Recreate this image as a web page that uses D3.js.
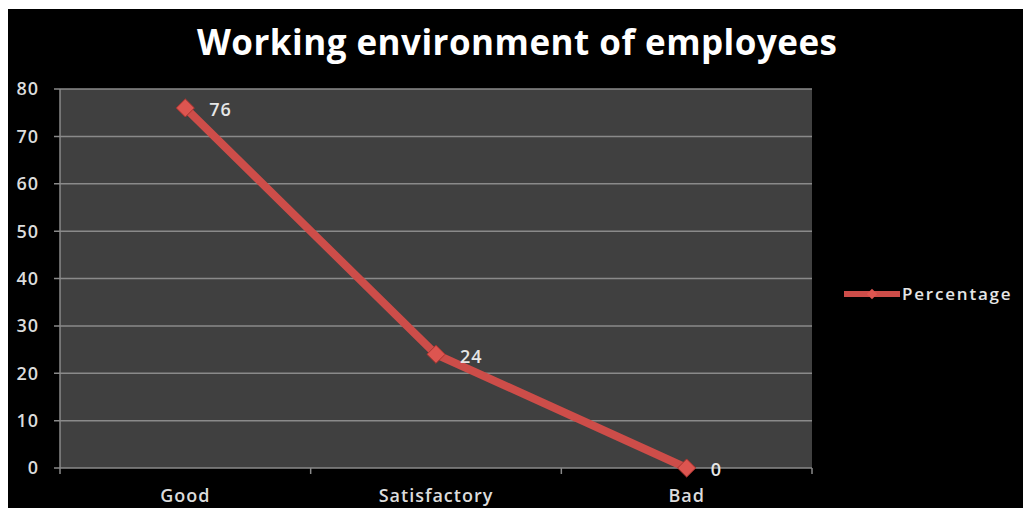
<!DOCTYPE html>
<html>
<head>
<meta charset="utf-8">
<script src="https://cdn.jsdelivr.net/npm/d3@7"></script>
<style>
  body { margin: 0; background: #fff; }
  svg text { font-family: "Open Sans", "DejaVu Sans", sans-serif; }
</style>
</head>
<body>
<svg id="chart" width="1023" height="508"></svg>
<script>
// chart data
var categories = ["Good", "Satisfactory", "Bad"];
var percentage = [76, 24, 0];
var yTicks = [0, 10, 20, 30, 40, 50, 60, 70, 80];
var seriesName = "Percentage";
var title = "Working environment of employees";

var svg = d3.select("svg"),
    width = +svg.attr("width"),
    height = +svg.attr("height");

// black slide background, white strip at top/left
svg.append("rect")
    .attr("x", 8).attr("y", 9)
    .attr("width", width - 8).attr("height", height - 9)
    .attr("fill", "#000");

var plot = { left: 60, right: 812, top: 89, bottom: 468 };

var x = d3.scaleBand()
    .domain(categories)
    .range([plot.left, plot.right]);

var y = d3.scaleLinear()
    .domain([0, 80])
    .range([plot.bottom, plot.top]);

// plot area
svg.append("rect")
    .attr("x", plot.left).attr("y", plot.top)
    .attr("width", plot.right - plot.left)
    .attr("height", plot.bottom - plot.top)
    .attr("fill", "#404040");

// gridlines
svg.append("g")
    .selectAll("line")
    .data(yTicks)
    .enter().append("line")
    .attr("x1", plot.left - 6)
    .attr("x2", plot.right)
    .attr("y1", function(d) { return y(d); })
    .attr("y2", function(d) { return y(d); })
    .attr("stroke", "#8a8a8a")
    .attr("stroke-width", 1.5);

// y axis line
svg.append("line")
    .attr("x1", plot.left).attr("x2", plot.left)
    .attr("y1", plot.top).attr("y2", plot.bottom + 6)
    .attr("stroke", "#8a8a8a").attr("stroke-width", 1.5);

// x tick marks at band edges
svg.append("g")
    .selectAll("line")
    .data(categories)
    .enter().append("line")
    .attr("x1", function(d) { return x(d) + x.bandwidth(); })
    .attr("x2", function(d) { return x(d) + x.bandwidth(); })
    .attr("y1", plot.bottom)
    .attr("y2", plot.bottom + 6)
    .attr("stroke", "#8a8a8a").attr("stroke-width", 1.5);

// y tick labels
svg.append("g")
    .selectAll("text")
    .data(yTicks)
    .enter().append("text")
    .attr("x", 39)
    .attr("y", function(d) { return y(d); })
    .attr("dy", "0.36em")
    .attr("text-anchor", "end")
    .attr("fill", "#dcdcdc")
    .attr("font-size", 18)
    .attr("font-weight", 600)
    .attr("letter-spacing", 1)
    .text(function(d) { return d; });

// x labels
svg.append("g")
    .selectAll("text")
    .data(categories)
    .enter().append("text")
    .attr("x", function(d) { return x(d) + x.bandwidth() / 2; })
    .attr("y", 502)
    .attr("text-anchor", "middle")
    .attr("fill", "#dcdcdc")
    .attr("font-size", 18)
    .attr("font-weight", 600)
    .attr("letter-spacing", 1)
    .text(function(d) { return d; });

var color = "#cd4d49";
var pts = categories.map(function(c, i) { return { cat: c, v: percentage[i] }; });

var line = d3.line()
    .x(function(d) { return x(d.cat) + x.bandwidth() / 2; })
    .y(function(d) { return y(d.v); });

svg.append("path")
    .datum(pts)
    .attr("d", line)
    .attr("fill", "none")
    .attr("stroke", color)
    .attr("stroke-width", 8)
    .attr("stroke-linejoin", "round");

var diamond = d3.symbol().type(d3.symbolDiamond2).size(210);

svg.append("g")
    .selectAll("path")
    .data(pts)
    .enter().append("path")
    .attr("d", diamond)
    .attr("transform", function(d) {
        return "translate(" + (x(d.cat) + x.bandwidth() / 2) + "," + y(d.v) + ")";
    })
    .attr("fill", "#dd5550")
    .attr("stroke", "#a8332f")
    .attr("stroke-width", 1);

// data labels
svg.append("g")
    .selectAll("text")
    .data(pts)
    .enter().append("text")
    .attr("x", function(d) { return x(d.cat) + x.bandwidth() / 2 + 24; })
    .attr("y", function(d) { return y(d.v) + 2; })
    .attr("dy", "0.36em")
    .attr("fill", "#e6e6e6")
    .attr("font-size", 18)
    .attr("font-weight", 600)
    .attr("letter-spacing", 1)
    .text(function(d) { return d.v; });

// title
svg.append("text")
    .attr("x", 517)
    .attr("y", 55)
    .attr("text-anchor", "middle")
    .attr("fill", "#fff")
    .attr("font-size", 35)
    .attr("font-weight", "bold")
    .attr("textLength", 640)
    .attr("lengthAdjust", "spacing")
    .text(title);

// legend
var lg = svg.append("g").attr("transform", "translate(844,294)");
lg.append("line")
    .attr("x1", 0).attr("x2", 56)
    .attr("stroke", color).attr("stroke-width", 6);
lg.append("path")
    .attr("d", d3.symbol().type(d3.symbolDiamond2).size(70))
    .attr("transform", "translate(28,0)")
    .attr("fill", "#dd5550");
lg.append("text")
    .attr("x", 58)
    .attr("dy", "0.36em")
    .attr("fill", "#e6e6e6")
    .attr("font-size", 17)
    .attr("font-weight", 600)
    .attr("letter-spacing", 1.8)
    .text(seriesName);
</script>
</body>
</html>
